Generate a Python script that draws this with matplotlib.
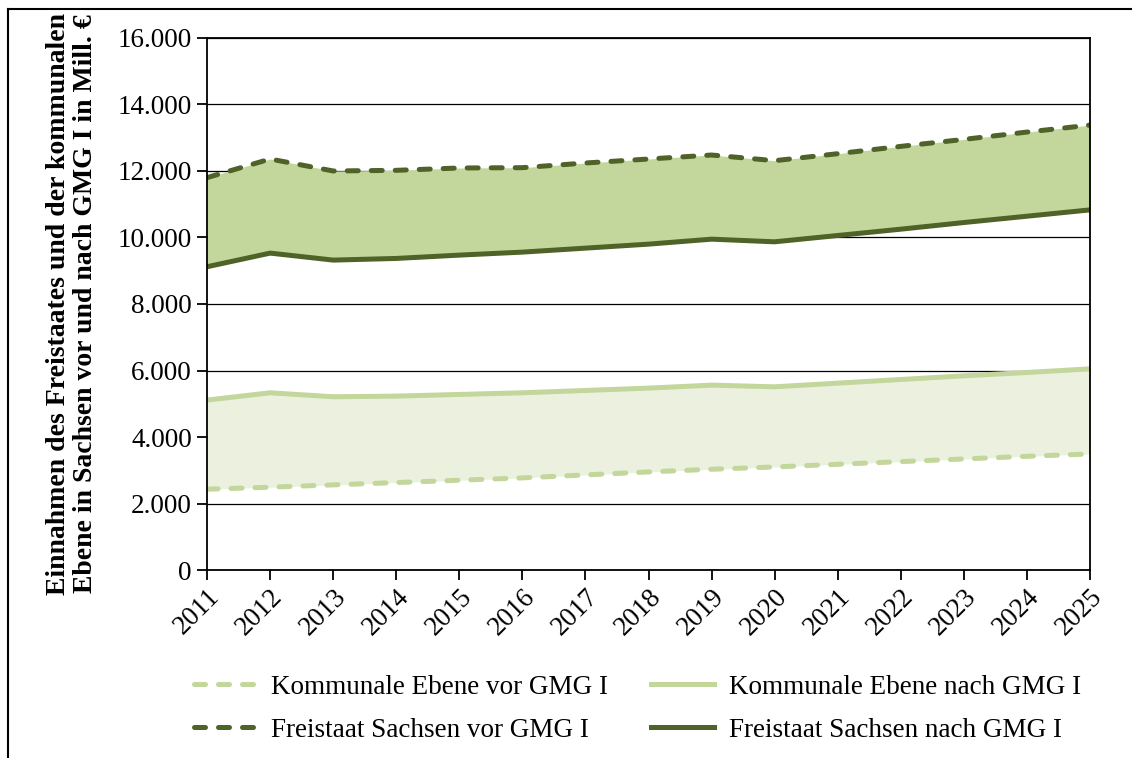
import matplotlib
matplotlib.use("Agg")
import matplotlib.pyplot as plt
from matplotlib.lines import Line2D
from matplotlib.ticker import FuncFormatter

years = list(range(2011, 2026))
freistaat_vor = [11800, 12360, 12000, 12020, 12090, 12100, 12240, 12360, 12480, 12310,
                 12520, 12740, 12950, 13170, 13380]
freistaat_nach = [9120, 9530, 9320, 9370, 9470, 9560, 9680, 9800, 9950, 9870,
                  10060, 10250, 10450, 10640, 10830]
kommunal_nach = [5110, 5330, 5210, 5230, 5280, 5330, 5400, 5470, 5560, 5510,
                 5620, 5730, 5840, 5940, 6050]
kommunal_vor = [2430, 2490, 2560, 2630, 2700, 2770, 2860, 2950, 3030, 3100,
                3180, 3260, 3340, 3420, 3490]
labels = ["Kommunale Ebene vor GMG I", "Freistaat Sachsen vor GMG I",
          "Kommunale Ebene nach GMG I", "Freistaat Sachsen nach GMG I"]

dark = "#4F6228"
light = "#C3D69B"
light_fill = "#EBF1DE"

plt.rcParams["font.family"] = ["Liberation Serif", "DejaVu Serif"]

fig = plt.figure(figsize=(11.32, 7.58), dpi=100)
ax = fig.add_axes([0.1829, 0.2480, 0.9629 - 0.1829, 0.9499 - 0.2480])

ax.fill_between(years, freistaat_nach, freistaat_vor, color=light, lw=0, zorder=2)
ax.fill_between(years, kommunal_vor, kommunal_nach, color=light_fill, lw=0, zorder=2)

lw = 3.6
dash = (2.2, 2.6)
ax.plot(years, kommunal_vor, color=light, lw=lw, dashes=dash, dash_capstyle="round", zorder=3)
ax.plot(years, freistaat_vor, color=dark, lw=lw, dashes=dash, dash_capstyle="round", zorder=3)
ax.plot(years, kommunal_nach, color=light, lw=lw, solid_capstyle="butt", zorder=3)
ax.plot(years, freistaat_nach, color=dark, lw=lw, solid_capstyle="butt", zorder=3)

ax.set_xlim(2011, 2025)
ax.set_ylim(0, 16000)
ax.set_yticks(range(0, 16001, 2000))
ax.yaxis.set_major_formatter(FuncFormatter(lambda v, p: f"{int(v):,}".replace(",", ".")))
ax.set_xticks(years)
ax.set_xticklabels([str(y) for y in years], rotation=45, ha="right", va="top",
                   rotation_mode="anchor")
ax.grid(axis="y", color="black", lw=0.9, zorder=1)
ax.set_axisbelow(True)
for s in ax.spines.values():
    s.set_linewidth(1.3)
    s.set_zorder(4)
ax.tick_params(axis="both", direction="out", length=7, width=1.3, labelsize=19.5, pad=4)
ax.tick_params(axis="x", pad=3)

ax.set_ylabel("Einnahmen des Freistaates und der kommunalen\nEbene in Sachsen vor und nach GMG I in Mill. €",
              fontsize=20, fontweight="bold", linespacing=1.1, labelpad=14)

handles = [
    Line2D([], [], color=light, lw=lw, dashes=dash, dash_capstyle="round"),
    Line2D([], [], color=dark, lw=lw, dashes=dash, dash_capstyle="round"),
    Line2D([], [], color=light, lw=lw),
    Line2D([], [], color=dark, lw=lw),
]
fig.legend(handles, labels, ncol=2, loc="center", bbox_to_anchor=(0.563, 0.065),
           frameon=False, fontsize=19.5, handlelength=2.3, handletextpad=0.55,
           columnspacing=1.6, labelspacing=0.65)

# outer border (top and left only, as in the cropped reference)
fig.add_artist(Line2D([8 / 1132, 1.0], [1 - 9 / 758, 1 - 9 / 758], transform=fig.transFigure,
                      color="black", lw=1.5))
fig.add_artist(Line2D([8 / 1132, 8 / 1132], [0, 1 - 9 / 758], transform=fig.transFigure,
                      color="black", lw=1.5))

fig.savefig("out.png", dpi=100)
